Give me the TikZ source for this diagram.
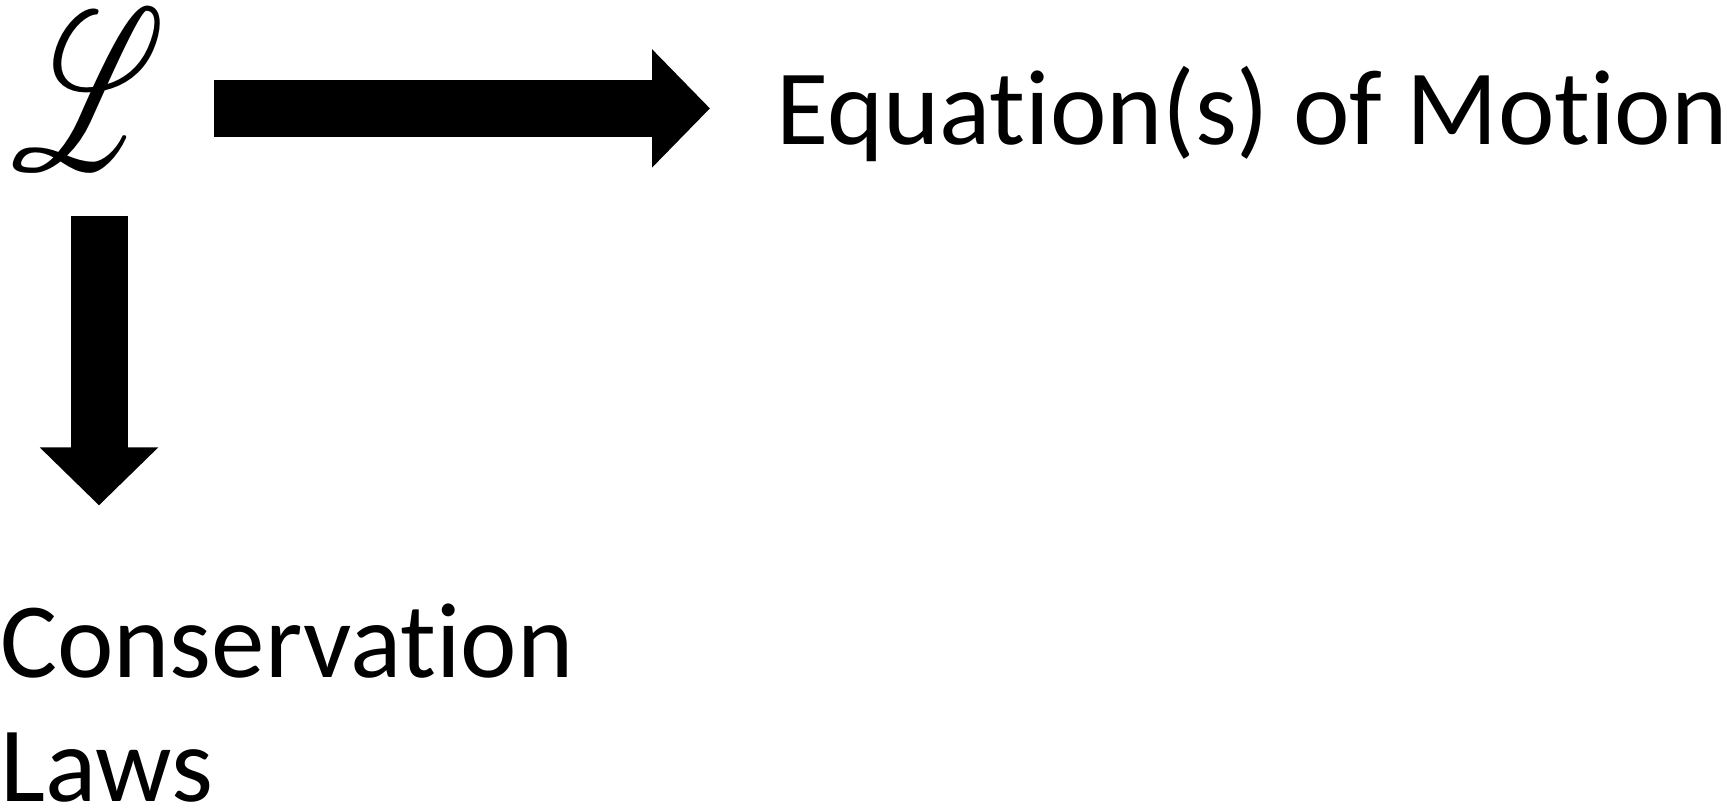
\documentclass[tikz,border=0pt]{standalone}
\usepackage{fontspec}
\setmainfont{Carlito}[Ligatures=NoCommon]
\usepackage{mathrsfs}
\usetikzlibrary{positioning,calc,arrows.meta}
\tikzset{
bigtext/.style={font=\fontsize{53.5pt}{62pt}\selectfont,inner sep=0pt,align=left},
lagsym/.style={inner sep=0pt,xscale=7.2,yscale=11.4},
blockarrow/.style={line width=28.5pt,-{Triangle[length=29pt,width=57.5pt]}}
}
\begin{document}
\begin{tikzpicture}[x=0.5pt,y=-0.5pt]
\useasboundingbox (0,0) rectangle (1734,811);
\node[lagsym] (lag) at (88,90) {$\mathscr{L}$};
\node[bigtext,anchor=base west] (eom) at (776,144) {Equation(s) of Motion};
\node[bigtext,anchor=north west] (cons) at (0,603) {Conservation\\Laws};
\coordinate (rstart) at (214,108.4);
\coordinate (rend) at (710,108.4);
\coordinate (dstart) at (99,215.6);
\coordinate (dend) at (99,505.4);
\draw[blockarrow] (rstart) -- (rend);
\draw[blockarrow] (dstart) -- (dend);
\end{tikzpicture}
\end{document}
